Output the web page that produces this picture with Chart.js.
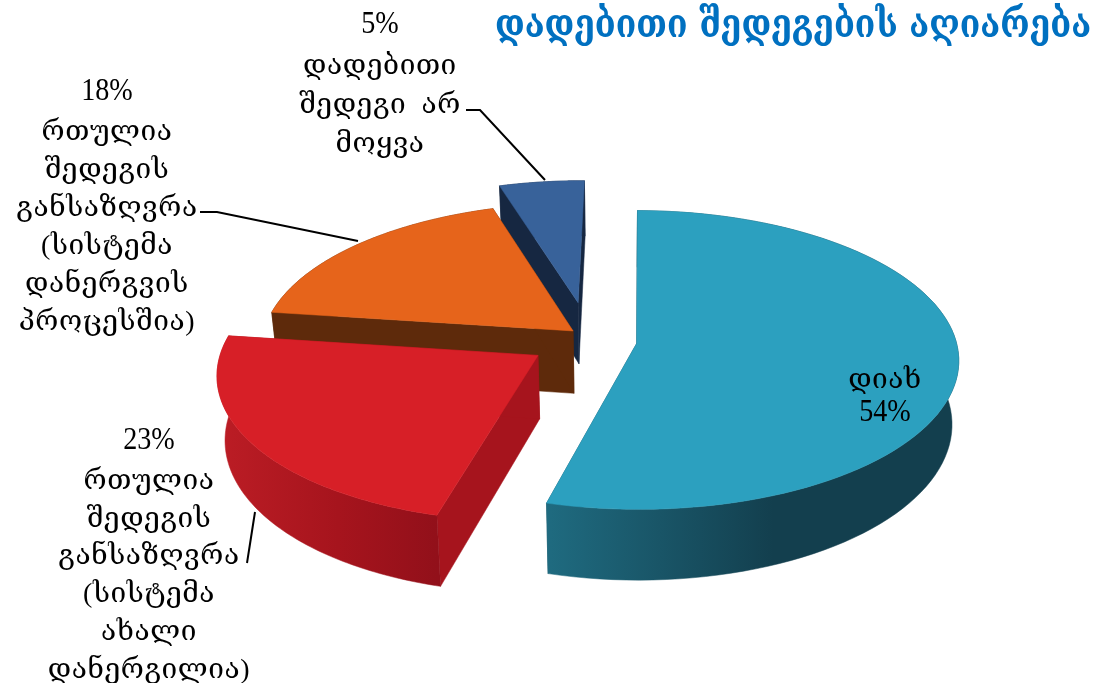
<!DOCTYPE html>
<html>
<head>
<meta charset="utf-8">
<style>
  html, body { margin: 0; padding: 0; background: #fff; }
  canvas { display: block; }
</style>
<script src="https://cdn.jsdelivr.net/npm/chart.js@4"></script>
</head>
<body>
<canvas id="pie3d" width="1103" height="683"></canvas>
<script>
// chart values
const titleText = 'დადებითი შედეგების აღიარება';
const categories = ['დიახ', 'რთულია შედეგის განსაზღვრა (სისტემა ახალი დანერგილია)',
  'რთულია შედეგის განსაზღვრა (სისტემა დანერგვის პროცესშია)', 'დადებითი შედეგი არ მოყვა'];
const values = [54, 23, 18, 5];
const valueLabels = ['54%', '23%', '18%', '5%'];

// colours of each slice: top, cut faces, rim gradient
const topColors = ['#2ca0bf', '#d71f27', '#e6641b', '#38629a'];
const cutColors = ['#174f60', '#a6141d', '#5e2a0b', '#162741'];
const rimColors = [['#1f6b80', '#133f4e', '#133f4e'], ['#bc1d25', '#a6141d', '#92101a'],
  ['#5e2a0b', '#5e2a0b', '#5e2a0b'], ['#162741', '#162741', '#162741']];

// how far each slice is pulled out, in radii of the flat disc (x, y)
const pullX = [0.052, -0.254, -0.148, -0.135];
const pullY = [0, 0.08, -0.086, -0.285];
// slices further back look a bit smaller
const sliceScale = [1, 0.985, 0.975, 0.97];

// tilted view of the disc
const view = { rx: 320, ry: 147.6, persp: 0.11, depth: 63, shrink: 0.98 };

// label text blocks, first line is centred on x
const labelBlocks = [
  { x: 885, y: 378, step: 35, lines: ['დიახ', valueLabels[0]] },
  { x: 149, y: 441, step: 37.7, lines: [valueLabels[1], 'რთულია', 'შედეგის', 'განსაზღვრა', '(სისტემა', 'ახალი', 'დანერგილია)'] },
  { x: 107, y: 92, step: 38, lines: [valueLabels[2], 'რთულია', 'შედეგის', 'განსაზღვრა', '(სისტემა', 'დანერგვის', 'პროცესშია)'] },
  { x: 380, y: 25, step: 39, lines: [valueLabels[3], 'დადებითი', 'შედეგი  არ', 'მოყვა'] }
];
const leaderLines = [
  [[247, 563], [255, 512]],
  [[200, 212], [217, 212], [358, 241]],
  [[466, 110], [480, 110], [545, 180]]
];

function project(arc, u, v) {
  const w = 1 - view.persp * v;
  return { x: arc.x + view.rx * u / w, y: arc.y + view.ry * v / w, w: w };
}

function lower(arc, p) {
  return { x: arc.x + (p.x - arc.x) * view.shrink, y: p.y + view.depth / p.w };
}

function poly(ctx, pts, fill) {
  ctx.beginPath();
  pts.forEach((p, i) => i ? ctx.lineTo(p.x, p.y) : ctx.moveTo(p.x, p.y));
  ctx.closePath();
  ctx.fillStyle = fill;
  ctx.fill();
  ctx.strokeStyle = fill;
  ctx.lineWidth = 0.5;
  ctx.stroke();
}

function drawSlice(ctx, arc, i) {
  const apex = project(arc, pullX[i], pullY[i]);
  const r = sliceScale[i];
  const rim = [];
  const n = 90;
  for (let k = 0; k <= n; k++) {
    const a = arc.startAngle + (arc.endAngle - arc.startAngle) * k / n;
    rim.push(project(arc, pullX[i] + r * Math.cos(a), pullY[i] + r * Math.sin(a)));
  }
  const low = rim.map(p => lower(arc, p));
  const lowApex = lower(arc, apex);

  // straight cut faces
  poly(ctx, [apex, rim[0], low[0], lowApex], cutColors[i]);
  poly(ctx, [apex, rim[n], low[n], lowApex], cutColors[i]);

  // outer wall
  const xs = rim.map(p => p.x);
  const x0 = Math.min(...xs), x1 = Math.max(...xs);
  const grad = ctx.createLinearGradient(x0, 0, x1, 0);
  grad.addColorStop(0, rimColors[i][0]);
  grad.addColorStop(0.55, rimColors[i][1]);
  grad.addColorStop(1, rimColors[i][2]);
  poly(ctx, rim.concat(low.slice().reverse()), grad);

  // top of the slice
  poly(ctx, [apex].concat(rim), topColors[i]);
}

function drawText(ctx) {
  ctx.textAlign = 'center';
  ctx.textBaseline = 'middle';
  ctx.fillStyle = '#000';
  labelBlocks.forEach(b => {
    b.lines.forEach((line, k) => {
      const y = b.y + k * b.step;
      if (line.endsWith('%')) {
        // the digits are tall and narrow in the picture
        ctx.save();
        ctx.translate(b.x, y);
        ctx.scale(0.88, 1);
        ctx.font = '32px "Liberation Serif"';
        ctx.fillText(line, 0, 0);
        ctx.restore();
      } else {
        ctx.font = '28px "Liberation Serif", "DejaVu Serif"';
        ctx.letterSpacing = '0.6px';
        ctx.fillText(line, b.x, y + 3);
        ctx.letterSpacing = '0px';
      }
    });
  });

  ctx.strokeStyle = '#000';
  ctx.lineWidth = 2;
  leaderLines.forEach(pts => {
    ctx.beginPath();
    pts.forEach((p, k) => k ? ctx.lineTo(p[0], p[1]) : ctx.moveTo(p[0], p[1]));
    ctx.stroke();
  });

  // title, stretched upwards since no installed font is this tall
  ctx.save();
  ctx.translate(793, 27);
  ctx.scale(1, 1.2);
  ctx.fillStyle = '#0070c0';
  ctx.font = 'bold 33.5px "DejaVu Serif"';
  ctx.fillText(titleText, 0, 0);
  ctx.restore();
}

const tiltPlugin = {
  id: 'tilt',
  beforeDatasetsDraw(chart) {
    const ctx = chart.ctx;
    const arcs = chart.getDatasetMeta(0).data;
    ctx.save();
    // back to front
    [3, 2, 1, 0].forEach(i => drawSlice(ctx, arcs[i], i));
    drawText(ctx);
    ctx.restore();
    return false;
  }
};

new Chart(document.getElementById('pie3d').getContext('2d'), {
  type: 'pie',
  data: {
    labels: categories,
    datasets: [{ data: values, backgroundColor: topColors, borderWidth: 0 }]
  },
  options: {
    responsive: false,
    animation: false,
    rotation: 0.5,
    layout: { padding: { left: 137, top: 4 } },
    plugins: { legend: { display: false }, tooltip: { enabled: false } }
  },
  plugins: [tiltPlugin]
});
</script>
</body>
</html>
